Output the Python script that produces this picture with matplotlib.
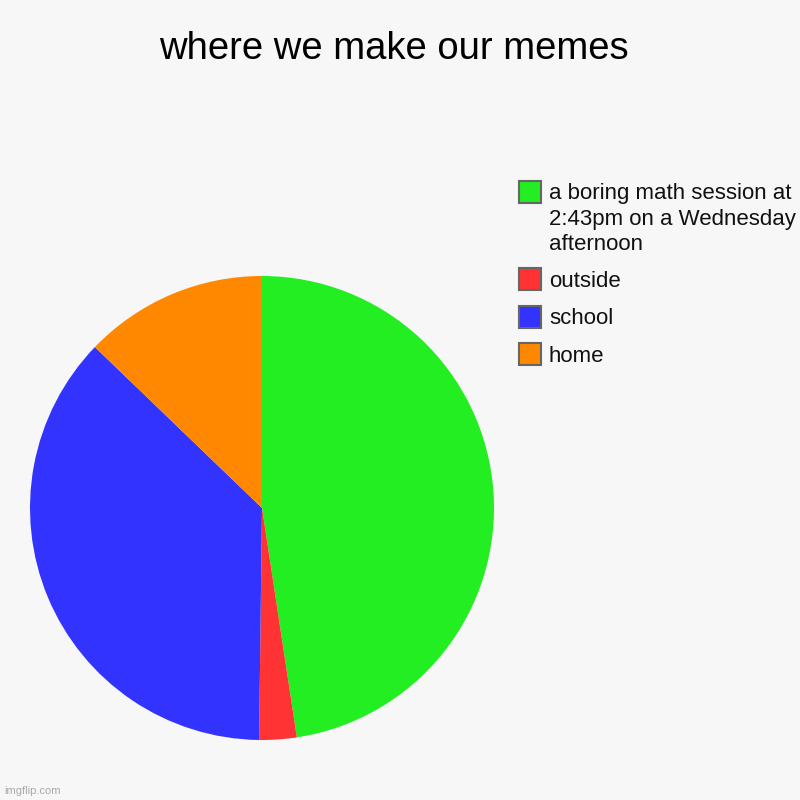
import matplotlib
matplotlib.use("Agg")
import matplotlib.pyplot as plt
from matplotlib.patches import Rectangle

categories = ["a boring math session at\n2:43pm on a Wednesday\nafternoon", "outside", "school", "home"]
values = [47.6, 2.6, 37.0, 12.8]
colors = ["#22ee22", "#ff3333", "#3333ff", "#ff8800"]
title = "where we make our memes"

plt.rcParams['font.family'] = ['Liberation Sans', 'DejaVu Sans']
bg = "#f7f7f7"
fig = plt.figure(figsize=(8, 8), dpi=100, facecolor=bg)

cx, cy, r = 262, 508, 232
ax = fig.add_axes([(cx - r) / 800, (800 - cy - r) / 800, 2 * r / 800, 2 * r / 800])
ax.set_facecolor(bg)
ax.pie(values, colors=colors, startangle=90, counterclock=False, radius=1,
       wedgeprops=dict(linewidth=0))
ax.set_xlim(-1, 1)
ax.set_ylim(-1, 1)
ax.set_aspect('equal')
ax.axis('off')

# overlay in pixel coordinates for title, legend, watermark
ov = fig.add_axes([0, 0, 1, 1], facecolor='none')
ov.set_xlim(0, 800)
ov.set_ylim(800, 0)
ov.axis('off')

ov.text(394, 49, title, ha='center', va='center', fontsize=27.5, color='black')

y = 191.5
for lab, c in zip(categories, colors):
    ov.add_patch(Rectangle((519, y - 11), 22, 22, facecolor=c, edgecolor='#666666', linewidth=1.5))
    lines = lab.split('\n')
    for i, line in enumerate(lines):
        ov.text(549, y + 8 + 25 * i, line, ha='left', va='baseline', fontsize=16, color='#111111')
    y += 37.5 + 25 * (len(lines) - 1)

ov.text(4, 791, "imgflip.com", ha='left', va='center', fontsize=8, color='#aaaaaa')

fig.savefig("out.png", dpi=100, facecolor=bg)
